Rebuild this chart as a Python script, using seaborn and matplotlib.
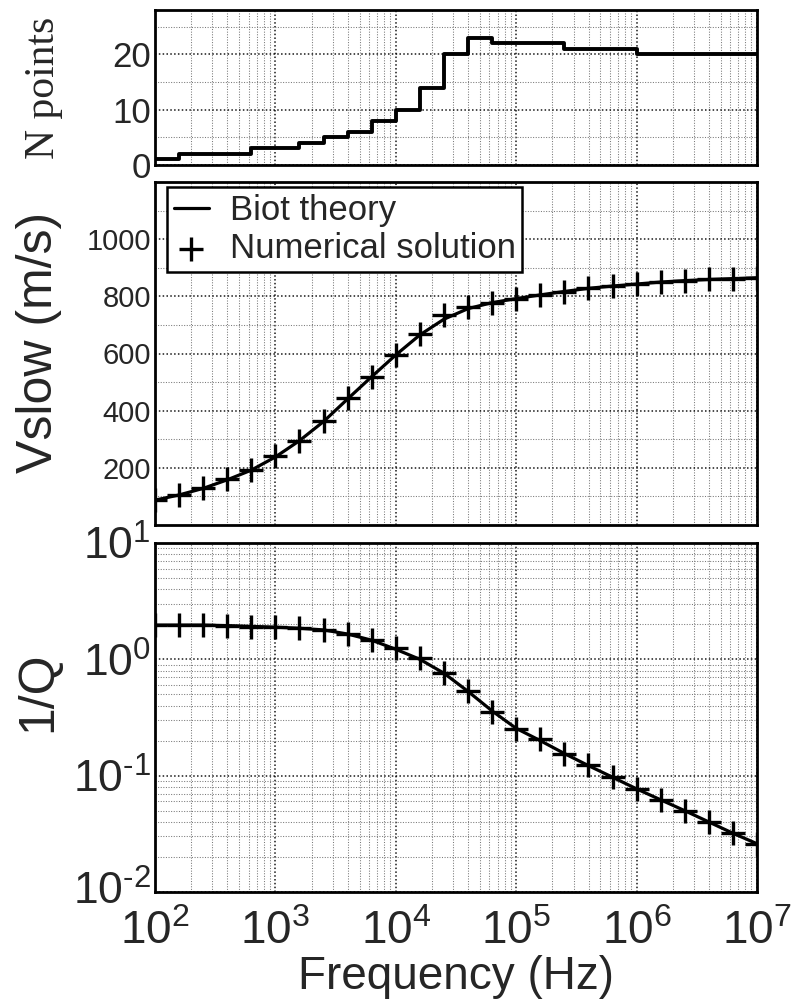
import numpy as np
import pandas as pd
import matplotlib
matplotlib.use("Agg")
import matplotlib.pyplot as plt
import matplotlib.transforms as mtransforms
import seaborn as sns
from matplotlib.ticker import LogLocator, FixedLocator, NullFormatter, MultipleLocator, FixedFormatter
from matplotlib import font_manager

# ---------------- data ----------------
freq = [100, 158, 251, 398, 631, 1000, 1585, 2512, 3981, 6310,
        10000, 15849, 25119, 39811, 63096, 100000, 158489, 251189, 398107, 630957,
        1000000, 1584893, 2511886, 3981072, 6309573, 10000000]

vslow_num = [87, 105, 128, 160, 192, 241, 295, 364, 443, 519,
             595, 668, 735, 764, 776, 790, 805, 816, 828, 836,
             843, 851, 855, 860, 862, 865]
vslow_biot = [87, 105, 128, 158, 192, 238, 295, 362, 441, 519,
              595, 665, 720, 757, 778, 792, 805, 817, 828, 836,
              843, 850, 855, 859, 862, 865]

invq_num = [1.97, 1.97, 1.97, 1.93, 1.91, 1.88, 1.85, 1.79, 1.65, 1.48,
            1.24, 1.02, 0.76, 0.53, 0.355, 0.25, 0.205, 0.154, 0.123, 0.098,
            0.077, 0.062, 0.050, 0.040, 0.032, 0.026]
invq_biot = [1.97, 1.97, 1.97, 1.95, 1.92, 1.89, 1.85, 1.79, 1.65, 1.46,
             1.22, 1.00, 0.76, 0.53, 0.36, 0.255, 0.20, 0.155, 0.122, 0.097,
             0.077, 0.062, 0.050, 0.040, 0.032, 0.026]

step_edges = [100, 158, 631, 1585, 2512, 3981, 6310, 10000, 15849, 25119,
              39811, 63096, 251189, 1000000, 10000000]
npoints = [1, 2, 3, 4, 5, 6, 8, 10, 14, 20, 23, 22, 21, 20]

xtick_vals = [1e2, 1e3, 1e4, 1e5, 1e6, 1e7]
xtick_labels = [r"$\mathregular{10^{2}}$", r"$\mathregular{10^{3}}$", r"$\mathregular{10^{4}}$",
                r"$\mathregular{10^{5}}$", r"$\mathregular{10^{6}}$", r"$\mathregular{10^{7}}$"]
qtick_vals = [1e-2, 1e-1, 1e0, 1e1]
qtick_labels = [r"$\mathregular{10^{\text{-}2}}$", r"$\mathregular{10^{\text{-}1}}$",
                r"$\mathregular{10^{0}}$", r"$\mathregular{10^{1}}$"]
ntick_vals = [0, 10, 20]
vtick_vals = [200, 400, 600, 800, 1000]

# ---------------- style ----------------
sns.set_theme(style="white")
names = {f.name for f in font_manager.fontManager.ttflist}
narrow = "Liberation Sans Narrow" if "Liberation Sans Narrow" in names else "Liberation Sans"
plt.rcParams["font.family"] = [narrow, "DejaVu Sans"]
plt.rcParams["mathtext.fontset"] = "custom"
plt.rcParams["mathtext.rm"] = narrow
plt.rcParams["mathtext.it"] = narrow
plt.rcParams["axes.linewidth"] = 2.0
plt.rcParams["axes.edgecolor"] = "black"

W, H = 791, 1007
fig = plt.figure(figsize=(W / 100, H / 100), dpi=100)
fig.patch.set_facecolor("white")

L, R = 155, 757
def box(top, bottom):
    return [L / W, 1 - bottom / H, (R - L) / W, (bottom - top) / H]

ax1 = fig.add_axes(box(10, 165))
ax2 = fig.add_axes(box(182, 525))
ax3 = fig.add_axes(box(543, 892))

major_kw = dict(color="black", linestyle=(0, (1, 1.5)), linewidth=1.1, alpha=0.9)
minor_kw = dict(color="#7a7a7a", linestyle=(0, (1, 1.5)), linewidth=0.75)

for ax in (ax1, ax2, ax3):
    ax.set_xscale("log")
    ax.set_xlim(1e2, 1e7)
    ax.xaxis.set_major_locator(FixedLocator(xtick_vals))
    ax.xaxis.set_minor_locator(LogLocator(base=10, subs=np.arange(2, 10), numticks=50))
    ax.xaxis.set_minor_formatter(NullFormatter())
    ax.grid(True, which="major", axis="both", **major_kw)
    ax.grid(True, which="minor", axis="both", **minor_kw)
    ax.tick_params(which="both", length=0)
    for s in ax.spines.values():
        s.set_visible(True)
        s.set_linewidth(2.0)
        s.set_color("black")
    ax.set_axisbelow(True)

# ---- top: N points ----
step_df = pd.DataFrame({"f": step_edges, "n": npoints + [npoints[-1]]})
sns.lineplot(data=step_df, x="f", y="n", ax=ax1, color="black", linewidth=2.8,
             drawstyle="steps-post", sort=False, estimator=None)
ax1.set_ylim(0, 28)
ax1.yaxis.set_major_locator(FixedLocator(ntick_vals))
ax1.yaxis.set_minor_locator(MultipleLocator(5))
ax1.set_xticklabels([])
ax1.tick_params(axis="y", labelsize=25, pad=3)
ax1.set_xlabel("")
ax1.set_ylabel("N points", family=["Liberation Serif", "DejaVu Serif"], fontsize=30)
ax1.yaxis.set_label_coords(-0.152, 0.5)

# ---- middle: Vslow ----
vdf = pd.DataFrame({"f": freq, "biot": vslow_biot, "num": vslow_num})
sns.lineplot(data=vdf, x="f", y="biot", ax=ax2, color="black", linewidth=2.3,
             label="Biot theory", sort=False, estimator=None)
sns.scatterplot(data=vdf, x="f", y="num", ax=ax2, marker="+", s=320, color="black",
                linewidth=2.4, label="Numerical solution", zorder=3)
ax2.set_ylim(0, 1200)
ax2.yaxis.set_major_locator(FixedLocator(vtick_vals))
ax2.yaxis.set_minor_locator(FixedLocator([100, 300, 500, 700, 900, 1100]))
ax2.set_xticklabels([])
ax2.tick_params(axis="y", labelsize=21, pad=3)
ax2.set_xlabel("")
ax2.set_ylabel("Vslow (m/s)", family=["Liberation Sans", "DejaVu Sans"], fontsize=36)
ax2.yaxis.set_label_coords(-0.155, 0.533)
leg = ax2.legend(loc="upper left", bbox_to_anchor=(0.02, 0.985), frameon=True,
                 fancybox=False, edgecolor="black", framealpha=1,
                 prop={"family": ["Liberation Sans", "DejaVu Sans"], "size": 25},
                 handlelength=1.0, handletextpad=0.6, borderpad=0.2, labelspacing=0.15,
                 borderaxespad=0)
leg.get_frame().set_linewidth(1.8)

# ---- bottom: 1/Q ----
qdf = pd.DataFrame({"f": freq, "biot": invq_biot, "num": invq_num})
sns.lineplot(data=qdf, x="f", y="biot", ax=ax3, color="black", linewidth=2.3,
             sort=False, estimator=None)
sns.scatterplot(data=qdf, x="f", y="num", ax=ax3, marker="+", s=320, color="black",
                linewidth=2.4, zorder=3)
ax3.set_yscale("log")
ax3.set_ylim(1e-2, 1e1)
ax3.yaxis.set_major_locator(FixedLocator(qtick_vals))
ax3.yaxis.set_major_formatter(FixedFormatter(qtick_labels))
ax3.yaxis.set_minor_locator(LogLocator(base=10, subs=np.arange(2, 10), numticks=50))
ax3.yaxis.set_minor_formatter(NullFormatter())
ax3.set_xticks(xtick_vals)
ax3.set_xticklabels(xtick_labels)
ax3.tick_params(axis="x", labelsize=33, pad=13)
ax3.tick_params(axis="y", labelsize=32, pad=3)
ax3.set_xlabel("Frequency (Hz)", family=["Liberation Sans", "DejaVu Sans"], fontsize=33, labelpad=1)
ax3.set_ylabel("1/Q", family=["Liberation Sans", "DejaVu Sans"], fontsize=36)
ax3.yaxis.set_label_coords(-0.155, 0.573)
if ax3.get_legend() is not None:
    ax3.get_legend().remove()

# nudge the lowest y tick label slightly upward so it clears the x tick labels
up = mtransforms.ScaledTranslation(0, 4 / 100, fig.dpi_scale_trans)
lowest = ax3.yaxis.get_major_ticks()[0].label1
lowest.set_transform(lowest.get_transform() + up)

fig.savefig("out.png", dpi=100, facecolor="white")
